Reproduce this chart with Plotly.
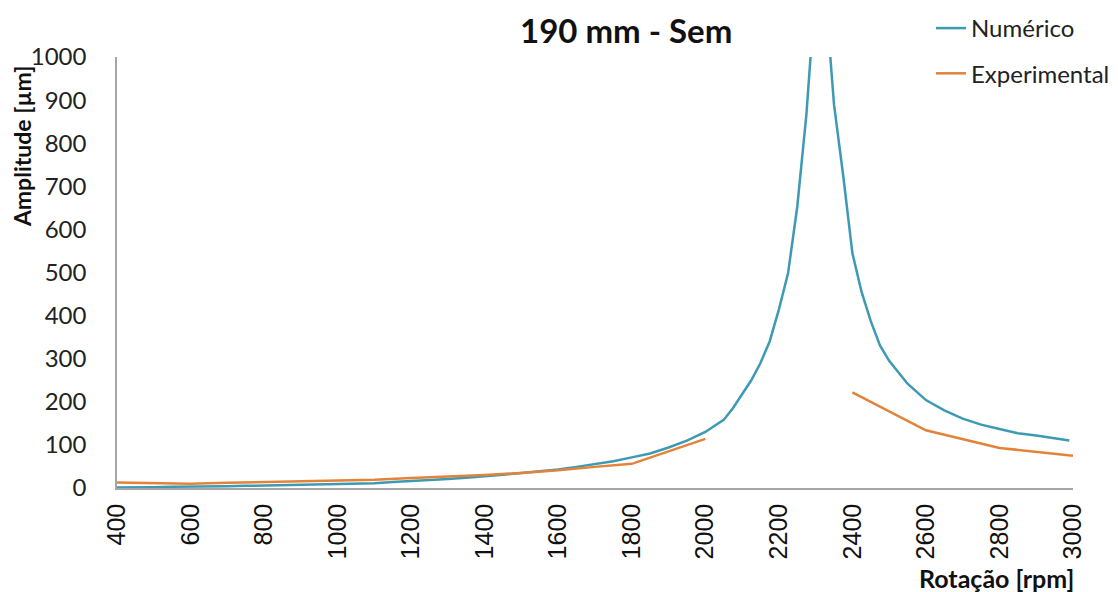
import plotly.graph_objects as go

# ---- data ----
num_rpm = [400, 450, 500, 550, 600, 650, 700, 750, 800, 850, 900, 950, 1000, 1050, 1100,
           1150, 1200, 1250, 1300, 1350, 1400, 1450, 1500, 1550, 1600, 1650, 1700, 1750,
           1800, 1850, 1900, 1950, 2000, 2050, 2075, 2100, 2125, 2150, 2175, 2200, 2225,
           2250, 2275, 2287, 2300, 2312, 2325, 2340, 2350, 2375, 2400, 2425, 2450, 2475,
           2500, 2550, 2600, 2650, 2700, 2750, 2800, 2850, 2900, 2950, 2990]
num_amp = [1, 1, 2, 3, 3, 3, 4, 5, 6, 6, 7, 8, 9, 10, 11,
           14, 16, 18, 21, 24, 27, 31, 35, 39, 43, 49, 55, 62,
           71, 80, 94, 110, 130, 158, 185, 216, 250, 290, 340, 414, 498,
           652, 867, 1010, 1500, 1800, 1500, 1000, 890, 725, 545, 455, 387, 331,
           295, 242, 204, 180, 161, 147, 137, 127, 122, 116, 110]

exp_rpm = [400, 500, 600, 700, 800, 900, 1000, 1100, 1200, 1300, 1400, 1500, 1600,
           1700, 1800, 1900, 2000, 2200, 2400, 2600, 2800, 3000]
exp_amp = [13, 11, 10, 12, 14, 15, 17, 19, 23, 26, 30, 35, 41,
           49, 56, 85, 114, None, 222, 134, 93, 75]

x_ticks = list(range(400, 3001, 200))
y_ticks = list(range(0, 1001, 100))

teal = "#3E9AB3"
orange = "#E3833A"

fig = go.Figure()
fig.add_trace(go.Scatter(x=num_rpm, y=num_amp, mode="lines", name="Numérico",
                         line=dict(color=teal, width=2.5), legendgroup="a"))
fig.add_trace(go.Scatter(x=exp_rpm, y=exp_amp, mode="lines", name="Experimental",
                         line=dict(color=orange, width=2.5), connectgaps=False,
                         legendgroup="b"))

fig.update_layout(
    width=1118, height=592,
    margin=dict(l=117, r=45, t=57, b=104, autoexpand=False),
    paper_bgcolor="white", plot_bgcolor="white",
    showlegend=True,
    legend=dict(xref="container", yref="container", x=931 / 1118, y=1 - 6 / 592,
                xanchor="left", yanchor="top", font=dict(family="Lato", size=24, color="#222"),
                tracegroupgap=11, bgcolor="rgba(0,0,0,0)"),
    font=dict(family="Lato", color="#222"),
)

fig.update_xaxes(range=[400, 3000], tickvals=x_ticks, ticktext=[str(v) for v in x_ticks],
                 tickangle=-90, tickfont=dict(family="Liberation Sans", size=25, color="#111"),
                 showgrid=False, zeroline=False, showline=True, linecolor="#A6A6A6",
                 linewidth=1.5, ticks="", ticklabelstandoff=4)
fig.update_yaxes(range=[0, 1000], tickvals=y_ticks, ticktext=[str(v) for v in y_ticks],
                 tickfont=dict(family="Lato", size=24, color="#222"),
                 showgrid=False, zeroline=False, showline=True, linecolor="#A6A6A6",
                 linewidth=1.5, ticks="", ticklabelstandoff=24)

fig.add_annotation(text="<b>190 mm - Sem</b>", xref="paper", yref="paper",
                   x=(626 - 117) / 956, y=(487.5 - 30) / 430.5, showarrow=False,
                   xanchor="center", yanchor="middle",
                   font=dict(family="Lato", size=33, color="#111"))
fig.add_annotation(text="<b>Amplitude [µm]</b>", xref="paper", yref="paper",
                   x=(22 - 117) / 956, y=(487.5 - 146) / 430.5, showarrow=False,
                   textangle=-90, xanchor="center", yanchor="middle",
                   font=dict(family="Lato", size=23, color="#111"))
fig.add_annotation(text="<b>Rotação [rpm]</b>", xref="paper", yref="paper",
                   x=(1076 - 117) / 956, y=(487.5 - 577) / 430.5, showarrow=False,
                   xanchor="right", yanchor="middle",
                   font=dict(family="Lato", size=25, color="#111"))

fig.write_html("out.html")
